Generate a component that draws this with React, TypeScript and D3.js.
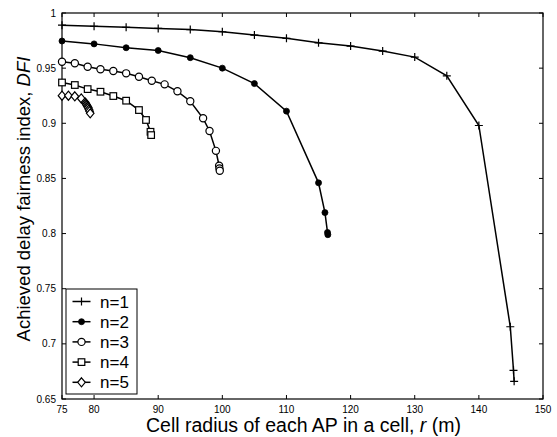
import React from "react";
import * as d3 from "d3";

const xTicks = [75, 80, 90, 100, 110, 120, 130, 140, 150];
const yTicks = [0.65, 0.7, 0.75, 0.8, 0.85, 0.9, 0.95, 1];

const n1X = [75, 80, 85, 90, 95, 100, 105, 110, 115, 120, 125, 130, 135, 140, 144.9, 145.4, 145.5];
const n1Y = [0.989, 0.988, 0.987, 0.986, 0.985, 0.983, 0.98, 0.977, 0.973, 0.97, 0.9655, 0.96, 0.943, 0.898, 0.7155, 0.676, 0.666];

const n2X = [75, 80, 85, 90, 95, 100, 105, 110, 115, 116, 116.4, 116.45];
const n2Y = [0.9746, 0.972, 0.9685, 0.966, 0.9595, 0.95, 0.936, 0.911, 0.846, 0.819, 0.801, 0.799];

const n3X = [75, 77, 79, 81, 83, 85, 87, 89, 91, 93, 95, 97, 98, 99, 99.5, 99.55, 99.6];
const n3Y = [0.9558, 0.9544, 0.9513, 0.949, 0.9474, 0.9453, 0.9422, 0.9386, 0.9353, 0.929, 0.92, 0.9045, 0.893, 0.875, 0.8615, 0.859, 0.857];

const n4X = [75, 77, 79, 81, 83, 85, 87, 88.1, 88.8, 88.9];
const n4Y = [0.937, 0.9347, 0.931, 0.9286, 0.9247, 0.9205, 0.912, 0.903, 0.8923, 0.8893];

const n5X = [75, 76, 77, 78, 78.6, 78.7, 78.8, 78.9, 79, 79.1, 79.2, 79.3, 79.4];
const n5Y = [0.925, 0.925, 0.9245, 0.9225, 0.919, 0.918, 0.917, 0.916, 0.915, 0.914, 0.9125, 0.911, 0.909];

const labels = ["n=1", "n=2", "n=3", "n=4", "n=5"];
const markers = ["plus", "dot", "circle", "square", "diamond"];
const seriesX = [n1X, n2X, n3X, n4X, n5X];
const seriesY = [n1Y, n2Y, n3Y, n4Y, n5Y];

const W = 557, H = 437;
const L = 62, R = 543, T = 13, B = 399;
const font = "'Liberation Sans', Arial, Helvetica, sans-serif";

function Marker({ type, x, y }: { type: string; x: number; y: number }) {
  const s = "#000";
  if (type === "plus")
    return (
      <path d={`M${x - 4},${y}H${x + 4}M${x},${y - 4}V${y + 4}`} stroke={s} strokeWidth={1.2} fill="none" />
    );
  if (type === "dot") return <circle cx={x} cy={y} r={3} fill={s} stroke={s} strokeWidth={0.8} />;
  if (type === "circle") return <circle cx={x} cy={y} r={3.6} fill="#fff" stroke={s} strokeWidth={1.2} />;
  if (type === "square")
    return <rect x={x - 3.3} y={y - 3.3} width={6.6} height={6.6} fill="#fff" stroke={s} strokeWidth={1.2} />;
  return (
    <path d={`M${x},${y - 4.5}L${x + 3.8},${y}L${x},${y + 4.5}L${x - 3.8},${y}Z`} fill="#fff" stroke={s} strokeWidth={1.2} />
  );
}

export default function App() {
  const x = d3.scaleLinear().domain([75, 150]).range([L, R]);
  const y = d3.scaleLinear().domain([0.65, 1]).range([B, T]);
  const line = d3
    .line<[number, number]>()
    .x((d) => x(d[0]))
    .y((d) => y(d[1]));
  const tl = 4;
  return (
    <svg width={W} height={H} style={{ position: "absolute", left: 0, top: 0, background: "#fff" }} fontFamily={font}>
      <rect x={0} y={0} width={W} height={H} fill="#fff" />
      {xTicks.map((t) => (
        <g key={"x" + t}>
          <line x1={x(t)} x2={x(t)} y1={B} y2={B - tl} stroke="#000" strokeWidth={1} />
          <line x1={x(t)} x2={x(t)} y1={T} y2={T + tl} stroke="#000" strokeWidth={1} />
          <text x={x(t)} y={412.5} fontSize={10} textAnchor="middle">
            {t}
          </text>
        </g>
      ))}
      {yTicks.map((t) => (
        <g key={"y" + t}>
          <line x1={L} x2={L + tl} y1={y(t)} y2={y(t)} stroke="#000" strokeWidth={1} />
          <line x1={R} x2={R - tl} y1={y(t)} y2={y(t)} stroke="#000" strokeWidth={1} />
          <text x={L - 6} y={y(t) + 3.5} fontSize={10} textAnchor="end">
            {String(t)}
          </text>
        </g>
      ))}
      <rect x={L} y={T} width={R - L} height={B - T} fill="none" stroke="#000" strokeWidth={1.2} />
      {seriesX.map((xs, i) => {
        const pts = xs.map((v, j) => [v, seriesY[i][j]] as [number, number]);
        return (
          <g key={"s" + i}>
            <path d={line(pts) || ""} fill="none" stroke="#000" strokeWidth={1.5} />
            {pts.map((p, j) => (
              <Marker key={j} type={markers[i]} x={x(p[0])} y={y(p[1])} />
            ))}
          </g>
        );
      })}
      <rect x={66} y={289} width={71} height={105} fill="#fff" stroke="#000" strokeWidth={1} />
      {labels.map((lab, i) => {
        const ly = 301.5 + i * 20.2;
        return (
          <g key={lab}>
            <line x1={72.5} x2={90.5} y1={ly} y2={ly} stroke="#000" strokeWidth={1.5} />
            <Marker type={markers[i]} x={81.5} y={ly} />
            <text x={100} y={ly + 6} fontSize={17}>
              {lab}
            </text>
          </g>
        );
      })}
      <text x={303.5} y={432} fontSize={19.5} textAnchor="middle">
        Cell radius of each AP in a cell, <tspan fontStyle="italic">r</tspan> (m)
      </text>
      <text transform={`translate(29.5,199) rotate(-90)`} fontSize={18.5} textAnchor="middle">
        Achieved delay fairness index, <tspan fontStyle="italic">DFI</tspan>
      </text>
    </svg>
  );
}
